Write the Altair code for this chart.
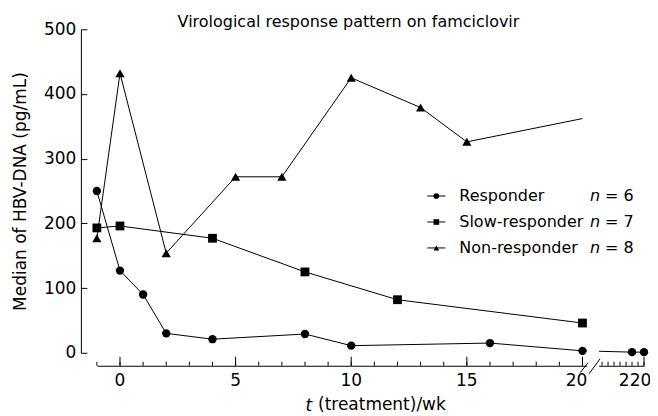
import altair as alt
import pandas as pd

TITLE = "Virological response pattern on famciclovir"
groups = ["Responder", "Slow-responder", "Non-responder"]
group_n = [6, 7, 8]

resp_weeks = [-1, 0, 1, 2, 4, 8, 10, 16, 20, 218, 220]
resp_values = [250, 127, 90, 30, 21, 29, 11, 15, 3, 1, 1]
slow_weeks = [-1, 0, 4, 8, 12, 20]
slow_values = [193, 196, 177, 125, 82, 46]
non_weeks = [-1, 0, 2, 5, 7, 10, 13, 15, 20]
non_values = [177, 432, 154, 272, 272, 425, 379, 326, 362]

x_minor_ticks = list(range(-1, 21)) + list(range(213, 221))
x_major_ticks = [0, 5, 10, 15, 20, 220]
y_ticks = [0, 100, 200, 300, 400, 500]

BREAK_LO, BREAK_HI = 20.2, 212.5

rows = []
for g, ws, vs in zip(groups, [resp_weeks, slow_weeks, non_weeks],
                     [resp_values, slow_values, non_values]):
    for w, v in zip(ws, vs):
        rows.append({"group": g, "week": w, "value": v})
df = pd.DataFrame(rows)
legend_df = pd.DataFrame({"group": groups, "n": group_n})
minor_df = pd.DataFrame({"week": x_minor_ticks})
major_df = pd.DataFrame({"week": x_major_ticks})
dummy = pd.DataFrame({"k": [0]})

W, H = 548, 324
GAP = 13
FONT = "DejaVu Sans"

xscale = alt.Scale(domain=[-1, BREAK_LO, BREAK_HI, 220], range=[0, 491, 503, W],
                   nice=False, zero=False)
yscale = alt.Scale(domain=[0, 500], nice=False, zero=False)
shape_scale = alt.Scale(domain=groups, range=["circle", "square", "triangle-up"])

x_axis = alt.Axis(
    labels=False, ticks=False, domain=True,
    title="(treatment)/wk", titleX=285, titlePadding=31,
    offset=GAP, titleFontSize=17, titleFont=FONT,
    titleFontWeight="normal", grid=False,
    domainColor="black", titleColor="black",
)
y_axis = alt.Axis(
    values=y_ticks, offset=16, tickSize=alt.ExprRef(expr="-6"), labelPadding=11,
    labelOverlap=False,
    title="Median of HBV-DNA (pg/mL)", titlePadding=14,
    labelFontSize=17, titleFontSize=17, labelFont=FONT, titleFont=FONT,
    titleFontWeight="normal", grid=False,
    domainColor="black", tickColor="black", labelColor="black", titleColor="black",
)

X = alt.X("week:Q", scale=xscale, axis=x_axis)
Y = alt.Y("value:Q", scale=yscale, axis=y_axis)
XT = alt.X("week:Q", scale=xscale)

lines = alt.Chart(df).mark_line(color="black", strokeWidth=1).encode(
    x=X, y=Y, detail="group:N")

cover = alt.Chart(pd.DataFrame({"lo": [BREAK_LO], "hi": [BREAK_HI]})).mark_rect(
    color="white").encode(
    x=alt.X("lo:Q", scale=xscale), x2="hi:Q",
    y=alt.value(H - 14), y2=alt.value(H + GAP + 6))

points = alt.Chart(df).transform_filter(
    "!(datum.group === 'Non-responder' && datum.week === 20)"
).mark_point(filled=True, color="black", opacity=1).encode(
    x=X, y=Y,
    shape=alt.Shape("group:N", scale=shape_scale, legend=None),
    size=alt.Size("group:N", scale=alt.Scale(domain=groups, range=[70, 85, 80]), legend=None),
)

minor = alt.Chart(minor_df).mark_rule(color="black", strokeWidth=1).encode(
    x=XT, y=alt.value(H + GAP), y2=alt.value(H + GAP - 4))
major = alt.Chart(major_df).mark_rule(color="black", strokeWidth=1).encode(
    x=XT, y=alt.value(H + GAP), y2=alt.value(H + GAP - 9))
label_style = dict(font=FONT, fontSize=17, baseline="top", align="center", color="black")
xlab1 = alt.Chart(major_df).transform_filter("datum.week < 20").mark_text(
    **label_style).encode(x=XT, y=alt.value(H + GAP + 7), text="week:Q")
xlab2 = alt.Chart(major_df).transform_filter("datum.week === 20").mark_text(
    dx=-6, **label_style).encode(x=XT, y=alt.value(H + GAP + 7), text="week:Q")
xlab3 = alt.Chart(major_df).transform_filter("datum.week > 20").mark_text(
    dx=-9, **label_style).encode(x=XT, y=alt.value(H + GAP + 7), text="week:Q")

slash1 = alt.Chart(dummy).mark_rule(color="black", strokeWidth=1).encode(
    x=alt.value(484), x2=alt.value(492), y=alt.value(H + 20), y2=alt.value(H + 10))
slash2 = alt.Chart(dummy).mark_rule(color="black", strokeWidth=1).encode(
    x=alt.value(493), x2=alt.value(504), y=alt.value(H + 21), y2=alt.value(H + 6))

t_text = alt.Chart(dummy).mark_text(
    text="t", font=FONT, fontSize=17, fontStyle="italic", align="left",
    baseline="middle", color="black").encode(x=alt.value(209), y=alt.value(377))

data_layer = alt.layer(lines, cover, points, minor, major, xlab1, xlab2, xlab3,
                       slash1, slash2, t_text)

row = alt.Y("group:N", scale=alt.Scale(type="point", domain=groups, range=[167, 219], padding=0),
            axis=None)
leg = alt.Chart(legend_df)
leg_rule = leg.mark_rule(color="black", strokeWidth=1).encode(
    x=alt.value(331), x2=alt.value(349), y=row)
leg_point = leg.mark_point(filled=True, color="black", opacity=1).encode(
    x=alt.value(340), y=row,
    shape=alt.Shape("group:N", scale=shape_scale, legend=None),
    size=alt.value(32))
leg_label = leg.mark_text(font=FONT, fontSize=16, align="left", baseline="middle",
                          color="black").encode(x=alt.value(363), y=row, text="group:N")
leg_n = leg.mark_text(text="n", font=FONT, fontSize=16, fontStyle="italic", align="left",
                      baseline="middle", color="black").encode(x=alt.value(494), y=row)
leg_eq = leg.transform_calculate(eq="'= ' + datum.n").mark_text(
    font=FONT, fontSize=16, align="left", baseline="middle", color="black").encode(
    x=alt.value(509), y=row, text="eq:N")
legend_layer = alt.layer(leg_rule, leg_point, leg_label, leg_n, leg_eq)

chart = alt.layer(data_layer, legend_layer).resolve_scale(
    y="independent"
).properties(
    width=W, height=H,
    title=alt.TitleParams(TITLE, font=FONT, fontSize=16, fontWeight="normal", color="black",
                          dx=-22, dy=13, offset=3, frame="group"),
    autosize=alt.AutoSizeParams(type="none"),
    padding={"left": 89, "top": 21, "right": 6, "bottom": 62},
).configure_view(stroke=None)

chart.save("out.html", embed_options={"renderer": "svg", "actions": False})
